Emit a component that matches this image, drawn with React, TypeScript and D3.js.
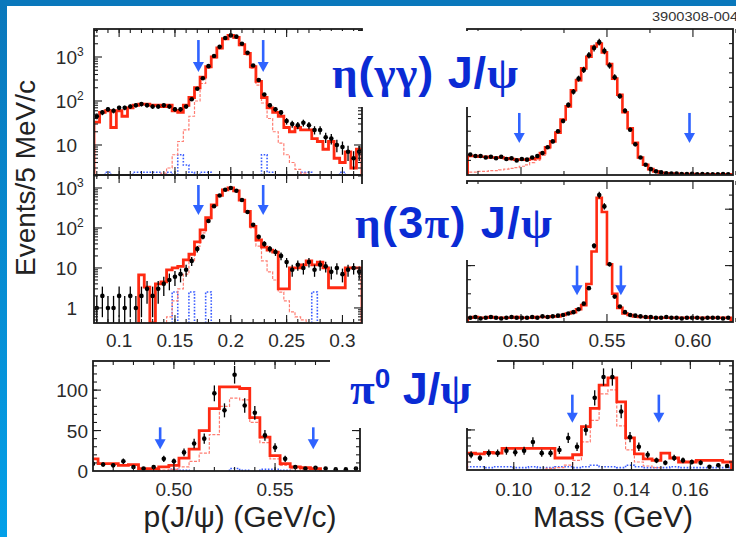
import React from "react";
import * as d3 from "d3";

// ---------------- DATA ----------------
// Top-left: eta(gg) J/psi, p(J/psi), 5 MeV/c bins
const TL_START = 0.0775;
const TL_W = 0.005;
const tlFit = [33,55,60,25,60,45,70,80,85,85,80,80,75,80,60,55,80,120,200,350,600,1000,1600,2600,3100,2800,1900,1200,600,280,120,70,55,45,25,20,25,22,22,14,12,8,12,5,4,7,3,8];
const tlData = [45,55,65,60,70,70,75,80,85,80,75,75,80,75,65,65,75,110,190,330,620,1050,1700,2700,3100,2900,2000,1250,640,300,140,80,65,55,35,30,28,32,28,22,22,15,14,10,9,7,5,7];
const tlSig = [null,null,null,null,null,null,null,null,null,null,null,null,2.3,3,6,12,22,45,100,250,550,950,1550,2500,3000,2700,1800,1100,550,230,90,40,20,11,6,4,2.8,2.3,null,null,null,null,null,null,null,null,null,null];
const tlBkg = [null,null,2.4,null,null,null,null,2.4,2.4,2.4,2.4,2.4,null,2.4,null,6,3.5,2.4,null,2.4,2.4,null,null,null,null,null,null,null,null,null,6,2.4,null,null,null,null,null,2.4,2.4,null,null,null,null,null,2.4,null,null,null];

// Middle-left: eta(3pi) J/psi
const mlFit = [null,null,null,null,null,null,null,null,6.7,3.3,0.3,4,4.5,9,10,11,16,22,45,90,180,380,650,900,1000,850,500,260,110,50,33,28,25,3,3,10,10,12,15,12,14,10,3.2,3.2,3.2,10,10,10];
const mlData = [1,2,1,1,2,1,2,1,2,3,2,3,4,5,6,7,9,15,30,60,150,350,650,900,1000,850,500,250,120,60,40,30,25,20,14,9,12,10,14,9,12,11,8,10,7,9,10,8];
const mlSig = [null,null,null,null,null,null,null,null,null,null,null,null,null,0.6,1.5,3,7,15,35,75,160,360,640,880,980,830,480,240,100,35,15,8,5,2.5,1.5,0.8,0.6,0.5,null,null,null,null,null,null,null,null,null,null];
const mlBkg = [null,null,null,null,null,null,null,null,null,null,null,null,null,null,2.5,null,null,2.5,null,null,2.5,null,null,null,null,null,null,null,null,null,null,null,null,null,null,null,null,null,null,2.5,null,null,null,null,null,null,null,null];

// Bottom-left: pi0 J/psi, p(J/psi)
const BL_START = 0.4575;
const BL_W = 0.005;
const blFit = [15,9,9,7,8,3,3,5,7,16,27,50,77,104,104,102,66,42,19,9,5,4,3,null,null,null,null];
const blData = [9,8,7,12,5,3,5,15,12,23,34,40,96,75,119,81,72,44,29,15,5,3,4,3,2,2,3];
const blSig = [null,null,null,null,null,null,null,1,2,5,12,22,45,80,90,88,60,35,15,7,3,1,null,null,null,null,null];
const blBkg = [null,null,null,null,null,null,null,null,2,1,null,null,null,null,3,1,null,2,2,1,null,null,null,null,null,null,null];

// Top-right: gamma-gamma mass (arbitrary units)
const TR_START = 0.469;
const TR_W = 0.003;
const trFit = [13,13,12.5,12.5,12,12,12,11.5,11,10.5,10.5,10.5,11,11.5,15,19,23,29,38,47,58,65,73,81,88,90,84,76,66,55,43,32,22,12,7,4,2.5,1.5,1.2,1,0.8,0.7,0.6,0.6,0.5,0.5,0.5,0.5,0.5,0.5,0.5];
const trData = [14,13,13,12,12.5,11.5,12.5,11,11.5,10,11,10.5,12,13,15,19,23,30,37,48,57,66,72,82,87,91,85,75,67,54,44,31,21,12,7,4,2.5,1.8,1.2,1,1,0.7,0.6,0.8,0.5,0.6,0.5,0.4,0.5,0.6,0.5];
const trSig = [2,2,2.5,2.5,3,3,3.5,4,4.5,5,6,7,8.5,10,13.5,18,22.5,28.5,37.5,46.5,57.5,64.5,72.5,80.5,87.5,89.5,83.5,75.5,65.5,54.5,42.5,31.5,21.5,11.5,6.5,3.5,2,1,0.7,0.5,0.3,0.2,0.1,0.1,0,0,0,0,0,0,0];

// Middle-right: 3pi mass
const mrFit = [3,3.5,3,3,3.5,3,3,3,3,3.5,3,3,3,3.5,3.5,3.5,4,4,5,6,7,9,12,27,50,88,78,41,20,10,6,5,4,3.5,3.5,3,3,3,3,3,3,3,3,3,3,3,3,3,3,3,3];
const mrData = [3,3.5,2.5,3,3.5,3,2.5,3,3.5,3,3,3,3.5,3,4,3.5,4,4.5,5,6,7,9,13,24,54,90,82,41,18,11,7,5,4.5,4,3.5,3.5,3,3,3.5,3,3,2.5,3,3,3,2.5,3,3,3,2.5,3];

// Bottom-right: gamma-gamma (pi0) mass
const BR_START = 0.084;
const BR_W = 0.003;
const brFit = [21,20,22,21,27,27,27,27,27,27,15,15,19,54,77,106,115,85,40,20,14,12,21,15,10,10,12,12,12,10];
const brData = [19,15,21,21,24,22,24,35,21,21,25,40,29,50,90,116,116,73,41,29,19,12,9,15,12,10,9,4,6,5];
const brSig = [null,null,null,null,null,null,null,null,null,2,3,6,12,35,62,95,100,55,25,10,5,3,null,null,null,null,null,null,null,null];
const brBkg = [4,4,3,4,4,3,3,4,3,3,4,4,3,4,6,4,4,3,6,4,3,3,3,4,3,3,3,3,3,3];

// Signal-region arrows (x, top value, tip value)
const tlArrows = [{ x: 0.171, top: 2430, tip: 457 }, { x: 0.229, top: 2430, tip: 457 }];
const mlArrows = [{ x: 0.171, top: 1190, tip: 211 }, { x: 0.229, top: 1190, tip: 211 }];
const blArrows = [{ x: 0.4932, top: 54, tip: 27 }, { x: 0.5689, top: 54, tip: 27 }];
const trArrows = [{ x: 0.499, top: 42.5, tip: 22 }, { x: 0.598, top: 42.5, tip: 22 }];
const mrArrows = [{ x: 0.5326, top: 40, tip: 19 }, { x: 0.5581, top: 40, tip: 19 }];
const brArrows = [{ x: 0.1199, top: 94, tip: 59 }, { x: 0.1493, top: 94, tip: 59 }];

// Tick labels
const leftXTicks = [0.1, 0.15, 0.2, 0.25, 0.3];
const leftXLabels = ["0.1", "0.15", "0.2", "0.25", "0.3"];
const blXTicks = [0.5, 0.55];
const blXLabels = ["0.50", "0.55"];
const mrXTicks = [0.5, 0.55, 0.6];
const mrXLabels = ["0.50", "0.55", "0.60"];
const brXTicks = [0.1, 0.12, 0.14, 0.16];
const brXLabels = ["0.10", "0.12", "0.14", "0.16"];
const tlYTicks = [1000, 100, 10];
const tlYLabels = [["10", "3"], ["10", "2"], ["10", ""]];
const mlYTicks = [1000, 100, 10, 1];
const mlYLabels = [["10", "3"], ["10", "2"], ["10", ""], ["1", ""]];
const blYTicks = [100, 50, 0];
const blYLabels = ["100", "50", "0"];

// ---------------- STYLE ----------------
const SANS = "'Liberation Sans', Arial, Helvetica, sans-serif";
const SERIF = "'Liberation Serif', 'Times New Roman', serif";
const RED = "#ff2a12";
const PINK = "#ff7d72";
const BLUE_D = "#3a5cff";
const ARROW = "#2f63ff";
const LABEL = "#0a2bd4";
const FRAME = "#1b1b1b";

function logMinor(lo: number, hi: number) {
  const out: number[] = [];
  for (let d = Math.pow(10, Math.floor(Math.log10(lo))); d <= hi; d *= 10) {
    for (let k = 2; k <= 9; k++) {
      const v = d * k;
      if (v >= lo && v <= hi) out.push(v);
    }
  }
  return out;
}

type Hist = { vals: (number | null)[]; color: string; width: number; dash?: string };
type Arrow = { x: number; top: number; tip: number };

function Panel(p: {
  id: string;
  x0: number; x1: number; y0: number; y1: number;
  xDomain: [number, number];
  log?: boolean;
  yDomain: [number, number];
  binStart: number; binW: number;
  hists: Hist[];
  data: number[];
  errK: number;
  arrows: Arrow[];
  xMajor: number[]; xMinor: number[]; yMajor: number[]; yMinor: number[];
}) {
  const x = d3.scaleLinear().domain(p.xDomain).range([p.x0, p.x1]);
  const y = (p.log ? d3.scaleLog() : d3.scaleLinear())
    .domain(p.yDomain)
    .range([p.y1, p.y0])
    .clamp(true);
  const yv = (v: number) => y(Math.max(v, p.yDomain[0])) as number;
  const line = d3.line();
  const stepPath = (vals: (number | null)[]) => {
    const runs: [number, number][][] = [];
    let cur: [number, number][] | null = null;
    vals.forEach((v, i) => {
      if (v == null) {
        if (cur) { runs.push(cur); cur = null; }
        return;
      }
      const lo = p.binStart + i * p.binW;
      const hi = lo + p.binW;
      if (!cur) cur = [];
      cur.push([x(lo), yv(v)], [x(hi), yv(v)]);
    });
    if (cur) runs.push(cur);
    return runs
      .map((r) => line([[r[0][0], p.y1], ...r, [r[r.length - 1][0], p.y1]]) || "")
      .join("");
  };
  const clipId = `clip-${p.id}`;
  return (
    <g>
      <defs>
        <clipPath id={clipId}>
          <rect x={p.x0} y={p.y0} width={p.x1 - p.x0} height={p.y1 - p.y0} />
        </clipPath>
      </defs>
      <g clipPath={`url(#${clipId})`}>
        {p.hists.map((h, i) => (
          <path key={i} d={stepPath(h.vals)} fill="none" stroke={h.color}
            strokeWidth={h.width} strokeDasharray={h.dash} strokeLinejoin="miter" />
        ))}
        {p.data.map((v, i) => {
          const c = p.binStart + (i + 0.5) * p.binW;
          if (p.log && v <= 0) return null;
          const e = Math.sqrt(Math.max(v, 0)) * p.errK;
          return (
            <g key={i}>
              <line x1={x(c)} x2={x(c)} y1={yv(v - e)} y2={yv(v + e)} stroke="#000" strokeWidth={1.3} />
              <circle cx={x(c)} cy={yv(v)} r={2.3} fill="#000" />
            </g>
          );
        })}
      </g>
      {p.arrows.map((a, i) => {
        const ax = x(a.x);
        const yt = yv(a.top);
        const yp = yv(a.tip);
        return (
          <g key={i}>
            <line x1={ax} x2={ax} y1={yt} y2={yp - 8} stroke={ARROW} strokeWidth={2.6} />
            <path d={`M${ax - 5.5},${yp - 10}L${ax + 5.5},${yp - 10}L${ax},${yp}Z`} fill={ARROW} />
          </g>
        );
      })}
      <g stroke={FRAME} strokeWidth={1.1}>
        {p.xMajor.map((t, i) => (
          <g key={"xM" + i}>
            <line x1={x(t)} x2={x(t)} y1={p.y1} y2={p.y1 - 8} />
            <line x1={x(t)} x2={x(t)} y1={p.y0} y2={p.y0 + 8} />
          </g>
        ))}
        {p.xMinor.map((t, i) => (
          <g key={"xm" + i}>
            <line x1={x(t)} x2={x(t)} y1={p.y1} y2={p.y1 - 4} />
            <line x1={x(t)} x2={x(t)} y1={p.y0} y2={p.y0 + 4} />
          </g>
        ))}
        {p.yMajor.map((t, i) => (
          <g key={"yM" + i}>
            <line x1={p.x0} x2={p.x0 + 8} y1={yv(t)} y2={yv(t)} />
            <line x1={p.x1} x2={p.x1 - 8} y1={yv(t)} y2={yv(t)} />
          </g>
        ))}
        {p.yMinor.map((t, i) => (
          <g key={"ym" + i}>
            <line x1={p.x0} x2={p.x0 + 4} y1={yv(t)} y2={yv(t)} />
            <line x1={p.x1} x2={p.x1 - 4} y1={yv(t)} y2={yv(t)} />
          </g>
        ))}
      </g>
      <rect x={p.x0} y={p.y0} width={p.x1 - p.x0} height={p.y1 - p.y0} fill="none" stroke={FRAME} strokeWidth={1.8} />
    </g>
  );
}

function XLabels(props: { domain: [number, number]; range: [number, number]; ticks: number[]; labels: string[]; y: number }) {
  const x = d3.scaleLinear().domain(props.domain).range(props.range);
  return (
    <g fontFamily={SANS} fontSize={19} fill="#2a2a2a" textAnchor="middle">
      {props.ticks.map((t, i) => (
        <text key={i} x={x(t)} y={props.y}>{props.labels[i]}</text>
      ))}
    </g>
  );
}

export default function App() {
  const tlX: [number, number] = [TL_START, TL_START + 48 * TL_W];
  const blX: [number, number] = [0.46, 0.592];
  const trX: [number, number] = [0.4686, 0.6233];
  const brX: [number, number] = [0.0841, 0.1745];

  const tlLog = d3.scaleLog().domain([2.08, 4330]).range([175, 29]);
  const mlLog = d3.scaleLog().domain([0.42, 2113]).range([323, 175]);
  const blLin = d3.scaleLinear().domain([0, 136]).range([471, 361]);

  return (
    <svg width={736} height={537} style={{ position: "absolute", left: 0, top: 0, background: "#fff" }}>
      <defs>
        <linearGradient id="leftband" x1="0" y1="0" x2="0" y2="1">
          <stop offset="0" stopColor="#0a77bb" />
          <stop offset="1" stopColor="#03a0e8" />
        </linearGradient>
      </defs>
      <rect x={0} y={0} width={736} height={537} fill="#fff" />
      <rect x={0} y={0} width={7} height={537} fill="url(#leftband)" />
      <rect x={0} y={0} width={736} height={6} fill="#0a78bc" />

      <text x={652} y={21} fontFamily={SANS} fontSize={13.5} fill="#333" textLength={86} lengthAdjust="spacingAndGlyphs">3900308-004</text>

      {/* Top-left */}
      <Panel id="tl" x0={94} x1={362} y0={29} y1={175} xDomain={tlX} log yDomain={[2.08, 4330]}
        binStart={TL_START} binW={TL_W}
        hists={[
          { vals: tlBkg, color: BLUE_D, width: 1.6, dash: "1.6,1.6" },
          { vals: tlSig, color: PINK, width: 1.2, dash: "3,1.5" },
          { vals: tlFit, color: RED, width: 2.8 },
        ]}
        data={tlData} errK={1} arrows={tlArrows}
        xMajor={leftXTicks} xMinor={d3.range(0.08, 0.316, 0.01)}
        yMajor={[10, 100, 1000]} yMinor={logMinor(2.08, 4330)} />

      {/* Middle-left */}
      <Panel id="ml" x0={94} x1={362} y0={175} y1={323} xDomain={tlX} log yDomain={[0.42, 2113]}
        binStart={TL_START} binW={TL_W}
        hists={[
          { vals: mlBkg, color: BLUE_D, width: 1.6, dash: "1.6,1.6" },
          { vals: mlSig, color: PINK, width: 1.2, dash: "3,1.5" },
          { vals: mlFit, color: RED, width: 2.8 },
        ]}
        data={mlData} errK={1} arrows={mlArrows}
        xMajor={leftXTicks} xMinor={d3.range(0.08, 0.316, 0.01)}
        yMajor={[1, 10, 100, 1000]} yMinor={[0.5, 0.6, 0.7, 0.8, 0.9, ...logMinor(1, 2113)]} />

      {/* Bottom-left */}
      <Panel id="bl" x0={93} x1={360} y0={361} y1={471} xDomain={blX} yDomain={[0, 136]}
        binStart={BL_START} binW={BL_W}
        hists={[
          { vals: blBkg, color: BLUE_D, width: 1.6, dash: "1.6,1.6" },
          { vals: blSig, color: PINK, width: 1.2, dash: "3,1.5" },
          { vals: blFit, color: RED, width: 2.8 },
        ]}
        data={blData} errK={1} arrows={blArrows}
        xMajor={blXTicks} xMinor={d3.range(0.47, 0.592, 0.01)}
        yMajor={[50, 100]} yMinor={d3.range(10, 136, 10)} />

      {/* Top-right */}
      <Panel id="tr" x0={467} x1={733} y0={29} y1={175} xDomain={trX} yDomain={[0, 100]}
        binStart={TR_START} binW={TR_W}
        hists={[
          { vals: trSig, color: PINK, width: 1.2, dash: "3,1.5" },
          { vals: trFit, color: RED, width: 2.6 },
        ]}
        data={trData} errK={0.25} arrows={trArrows}
        xMajor={mrXTicks} xMinor={[0.475, 0.525, 0.575, 0.625]}
        yMajor={[]} yMinor={d3.range(10, 100, 10)} />

      {/* Middle-right */}
      <Panel id="mr" x0={467} x1={733} y0={181} y1={322} xDomain={trX} yDomain={[0, 100]}
        binStart={TR_START} binW={TR_W}
        hists={[{ vals: mrFit, color: RED, width: 2.6 }]}
        data={mrData} errK={0.25} arrows={mrArrows}
        xMajor={mrXTicks} xMinor={[0.475, 0.525, 0.575, 0.625]}
        yMajor={[40, 80]} yMinor={d3.range(10, 100, 10)} />

      {/* Bottom-right */}
      <Panel id="br" x0={467} x1={733} y0={361} y1={470} xDomain={brX} yDomain={[0, 136]}
        binStart={BR_START} binW={BR_W}
        hists={[
          { vals: brBkg, color: BLUE_D, width: 1.6, dash: "1.6,1.6" },
          { vals: brSig, color: PINK, width: 1.2, dash: "3,1.5" },
          { vals: brFit, color: RED, width: 2.8 },
        ]}
        data={brData} errK={1} arrows={brArrows}
        xMajor={brXTicks} xMinor={d3.range(0.09, 0.174, 0.01)}
        yMajor={[50, 100]} yMinor={d3.range(10, 136, 10)} />

      {/* tick labels */}
      <XLabels domain={tlX} range={[94, 362]} ticks={leftXTicks} labels={leftXLabels} y={347} />
      <XLabels domain={blX} range={[93, 360]} ticks={blXTicks} labels={blXLabels} y={496} />
      <XLabels domain={trX} range={[467, 733]} ticks={mrXTicks} labels={mrXLabels} y={347} />
      <XLabels domain={brX} range={[467, 733]} ticks={brXTicks} labels={brXLabels} y={496} />

      <g fontFamily={SANS} fontSize={19} fill="#2a2a2a">
        {tlYTicks.map((t, i) => (
          <g key={"tly" + i}>
            <text x={77} y={tlLog(t) + 7} textAnchor="end">{tlYLabels[i][0]}</text>
            <text x={77} y={tlLog(t) - 1} fontSize={12}>{tlYLabels[i][1]}</text>
          </g>
        ))}
        {mlYTicks.map((t, i) => (
          <g key={"mly" + i}>
            <text x={77} y={mlLog(t) + 7} textAnchor="end">{mlYLabels[i][0]}</text>
            <text x={77} y={mlLog(t) - 1} fontSize={12}>{mlYLabels[i][1]}</text>
          </g>
        ))}
        {blYTicks.map((t, i) => (
          <text key={"bly" + i} x={88} y={blLin(t) + 7} textAnchor="end">{blYLabels[i]}</text>
        ))}
      </g>

      {/* axis titles */}
      <text x={35} y={178} transform="rotate(-90 35 178)" textAnchor="middle" fontFamily={SANS} fontSize={28} fill="#222">Events/5 MeV/c</text>
      <text x={240} y={527} textAnchor="middle" fontFamily={SANS} fontSize={30} fill="#222">p(J/ψ) (GeV/c)</text>
      <text x={613} y={527} textAnchor="middle" fontFamily={SANS} fontSize={30} fill="#222">Mass (GeV)</text>

      {/* channel labels */}
      <rect x={313} y={31} width={225} height={76} fill="#fff" />
      <rect x={337} y={184} width={218} height={76} fill="#fff" />
      <rect x={330} y={357} width={167} height={71} fill="#fff" />
      <g fontWeight="bold" fontSize={45} fill={LABEL}>
        <text x={332} y={88} textLength={186} lengthAdjust="spacing">
          <tspan fontFamily={SERIF}>η</tspan>
          <tspan fontFamily={SANS}>(</tspan>
          <tspan fontFamily={SERIF}>γγ</tspan>
          <tspan fontFamily={SANS}>) J/</tspan>
          <tspan fontFamily={SERIF}>ψ</tspan>
        </text>
        <text x={355} y={238} textLength={197} lengthAdjust="spacing">
          <tspan fontFamily={SERIF}>η</tspan>
          <tspan fontFamily={SANS}>(3</tspan>
          <tspan fontFamily={SERIF}>π</tspan>
          <tspan fontFamily={SANS}>) J/</tspan>
          <tspan fontFamily={SERIF}>ψ</tspan>
        </text>
        <text x={350} y={404}>
          <tspan fontFamily={SERIF}>π</tspan>
          <tspan fontFamily={SANS} fontSize={28} dy={-16}>0</tspan>
          <tspan fontFamily={SANS} dy={16}> J/</tspan>
          <tspan fontFamily={SERIF}>ψ</tspan>
        </text>
      </g>
    </svg>
  );
}
